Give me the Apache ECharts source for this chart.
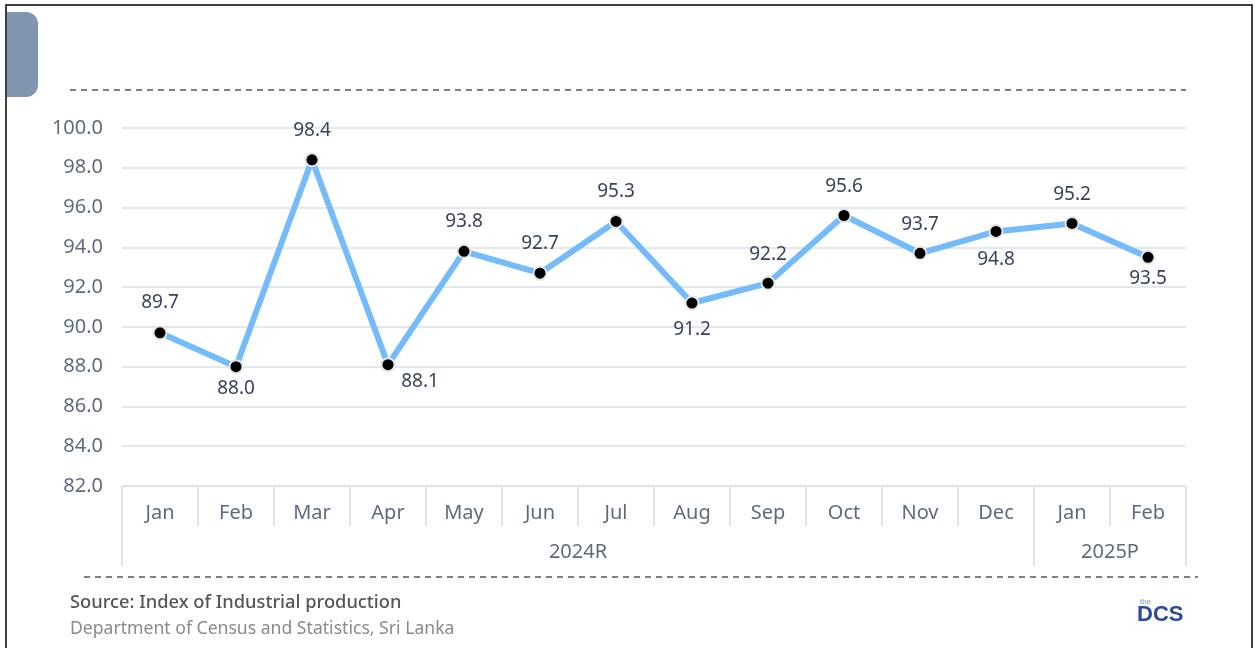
<!DOCTYPE html>
<html><head><meta charset="utf-8">
<script src="https://cdn.jsdelivr.net/npm/echarts@6/dist/echarts.min.js"></script>
<style>html,body{margin:0;padding:0;background:#fff}#c{width:1255px;height:648px}</style>
</head><body><div id="c"></div>
<script>
const months = ['Jan','Feb','Mar','Apr','May','Jun','Jul','Aug','Sep','Oct','Nov','Dec','Jan','Feb'];
const values = [89.7,88.0,98.4,88.1,93.8,92.7,95.3,91.2,92.2,95.6,93.7,94.8,95.2,93.5];
const years = ['2024R','2025P'];
const yearSpans = [12, 2];
const yTicks = {min:82, max:100, step:2};

// label placement styling (not data)
const labelStyles = [
  {position:'top', distance:13},
  {position:'bottom', distance:5},
  {position:'top', distance:12},
  {position:'bottom', distance:0, offset:[32,0]},
  {position:'top', distance:13},
  {position:'top', distance:13},
  {position:'top', distance:13},
  {position:'bottom', distance:10},
  {position:'top', distance:12},
  {position:'top', distance:12},
  {position:'top', distance:12},
  {position:'bottom', distance:11},
  {position:'top', distance:12},
  {position:'bottom', distance:4}
];

const chart = echarts.init(document.getElementById('c'));
const yearBounds = [0];
yearSpans.forEach(s => yearBounds.push(yearBounds[yearBounds.length-1] + s));
const yearCenters = yearSpans.map((s,i) => yearBounds[i] + s/2);
const font = 'Noto Sans';
const data = values.map((v,i) => ({value: v, label: labelStyles[i]}));
chart.setOption({
  animation: false,
  grid: {left: 122, right: 69, top: 128, bottom: 162},
  xAxis: [{
    type: 'category', data: months, boundaryGap: true,
    axisLine: {lineStyle: {color: '#dfe4eb', width: 2}},
    axisTick: {show: true, length: 40, interval: 0, lineStyle: {color: '#dfe4eb', width: 2}},
    axisLabel: {color: '#5f6b7d', fontSize: 20, fontFamily: font, margin: 17, interval: 0}
  }, {
    type: 'value', min: 0, max: months.length, position: 'bottom',
    axisLine: {show: false}, splitLine: {show: false},
    axisTick: {show: true, length: 80, customValues: yearBounds, lineStyle: {color: '#dfe4eb', width: 2}},
    axisLabel: {show: true, customValues: yearCenters, color: '#5f6b7d', fontSize: 20, fontFamily: font, margin: 56,
      formatter: v => { const i = yearCenters.indexOf(v); return i >= 0 ? years[i] : ''; }}
  }],
  yAxis: {
    type: 'value', min: yTicks.min, max: yTicks.max, interval: yTicks.step,
    axisLine: {show: false}, axisTick: {show: false},
    splitLine: {lineStyle: {color: '#e3e7ee', width: 2}},
    axisLabel: {color: '#5f6b7d', fontSize: 20, fontFamily: font, margin: 19, formatter: v => v.toFixed(1)}
  },
  series: [{
    type: 'line', data: data, xAxisIndex: 0,
    lineStyle: {color: '#74bbfb', width: 6},
    symbol: 'circle', symbolSize: 13,
    itemStyle: {color: '#000', borderColor: '#e4e4e4', borderWidth: 2},
    label: {show: true, color: '#37445a', fontSize: 19, fontFamily: font, formatter: p => p.value.toFixed(1)}
  }],
  graphic: [
    {type: 'rect', shape: {x: 6, y: 5, width: 1246, height: 700}, style: {fill: 'none', stroke: '#000', lineWidth: 1.5}, z: 10},
    {type: 'rect', shape: {x: 7, y: 12, width: 31, height: 85, r: [0, 12, 12, 0]}, style: {fill: '#8196ae'}},
    {type: 'line', shape: {x1: 70, y1: 90, x2: 1186, y2: 90}, style: {stroke: '#555', lineWidth: 1.3, lineDash: [6, 5]}},
    {type: 'line', shape: {x1: 84, y1: 577, x2: 1198, y2: 577}, style: {stroke: '#555', lineWidth: 1.3, lineDash: [6, 5]}},
    {type: 'text', left: 70, top: 594, style: {text: 'Source: Index of Industrial production', fill: '#555', font: '500 18.3px "Noto Sans"'}},
    {type: 'text', left: 70, top: 620, style: {text: 'Department of Census and Statistics, Sri Lanka', fill: '#8a8a8a', font: '17.6px "Noto Sans"'}},
    {type: 'text', left: 1137, top: 604, style: {text: 'DCS', fill: '#2d4a9a', font: 'bold 22px "Liberation Sans"'}},
    {type: 'text', left: 1140, top: 598, style: {text: 'the', fill: '#7f93c4', font: '8px "Liberation Sans"'}}
  ]
});
</script></body></html>
